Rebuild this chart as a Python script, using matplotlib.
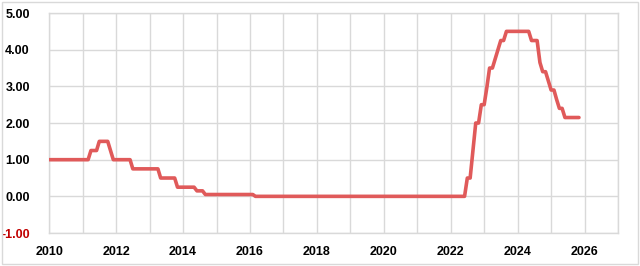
import matplotlib
matplotlib.use('Agg')
from matplotlib import pyplot as plt
import matplotlib.dates as mdates
from matplotlib.patches import Rectangle
import numpy as np
import pandas as pd

# monthly rate, one row per year (Jan..Dec), 2010 to Nov 2025
mro_rate = [
    1.00, 1.00, 1.00, 1.00, 1.00, 1.00, 1.00, 1.00, 1.00, 1.00, 1.00, 1.00,  # 2010
    1.00, 1.00, 1.00, 1.25, 1.25, 1.25, 1.50, 1.50, 1.50, 1.50, 1.25, 1.00,  # 2011
    1.00, 1.00, 1.00, 1.00, 1.00, 1.00, 0.75, 0.75, 0.75, 0.75, 0.75, 0.75,  # 2012
    0.75, 0.75, 0.75, 0.75, 0.50, 0.50, 0.50, 0.50, 0.50, 0.50, 0.25, 0.25,  # 2013
    0.25, 0.25, 0.25, 0.25, 0.25, 0.15, 0.15, 0.15, 0.05, 0.05, 0.05, 0.05,  # 2014
    0.05, 0.05, 0.05, 0.05, 0.05, 0.05, 0.05, 0.05, 0.05, 0.05, 0.05, 0.05,  # 2015
    0.05, 0.05, 0.00, 0.00, 0.00, 0.00, 0.00, 0.00, 0.00, 0.00, 0.00, 0.00,  # 2016
    0.00, 0.00, 0.00, 0.00, 0.00, 0.00, 0.00, 0.00, 0.00, 0.00, 0.00, 0.00,  # 2017
    0.00, 0.00, 0.00, 0.00, 0.00, 0.00, 0.00, 0.00, 0.00, 0.00, 0.00, 0.00,  # 2018
    0.00, 0.00, 0.00, 0.00, 0.00, 0.00, 0.00, 0.00, 0.00, 0.00, 0.00, 0.00,  # 2019
    0.00, 0.00, 0.00, 0.00, 0.00, 0.00, 0.00, 0.00, 0.00, 0.00, 0.00, 0.00,  # 2020
    0.00, 0.00, 0.00, 0.00, 0.00, 0.00, 0.00, 0.00, 0.00, 0.00, 0.00, 0.00,  # 2021
    0.00, 0.00, 0.00, 0.00, 0.00, 0.00, 0.50, 0.50, 1.25, 2.00, 2.00, 2.50,  # 2022
    2.50, 3.00, 3.50, 3.50, 3.75, 4.00, 4.25, 4.25, 4.50, 4.50, 4.50, 4.50,  # 2023
    4.50, 4.50, 4.50, 4.50, 4.50, 4.25, 4.25, 4.25, 3.65, 3.40, 3.40, 3.15,  # 2024
    2.90, 2.90, 2.65, 2.40, 2.40, 2.15, 2.15, 2.15, 2.15, 2.15, 2.15,        # 2025
]
start_month = '2010-01-01'
y_ticks = [-1, 0, 1, 2, 3, 4, 5]

months = pd.date_range(start_month, periods=len(mro_rate), freq='MS')

plt.rcParams['font.family'] = ['Liberation Sans', 'DejaVu Sans']

fig = plt.figure(figsize=(6.4, 2.66), dpi=100)
ax = fig.add_axes([0.077, 0.124, 0.8886, 0.827])

ax.plot(months, mro_rate, color='#E05A5A', linewidth=2.6,
        solid_joinstyle='round', solid_capstyle='round', zorder=3)

ax.set_xlim(pd.Timestamp('2010-01-01'), pd.Timestamp('2027-01-01'))
ax.set_ylim(-1, 5)
ax.set_yticks(y_ticks)
ax.xaxis.set_major_locator(mdates.YearLocator(2))
ax.xaxis.set_minor_locator(mdates.YearLocator(1))
ax.xaxis.set_major_formatter(mdates.DateFormatter('%Y'))

ax.grid(True, which='both', axis='x', color='#D9D9D9', linewidth=1)
ax.grid(True, which='major', axis='y', color='#D9D9D9', linewidth=1)
for s in ax.spines.values():
    s.set_color('#D9D9D9')
    s.set_linewidth(1)
ax.tick_params(which='both', length=0)
ax.tick_params(axis='y', pad=14, labelsize=9)
ax.tick_params(axis='x', pad=9, labelsize=9)

ylabels = []
for v in y_ticks:
    ylabels.append(f'{v:.2f}')
ax.set_yticklabels(ylabels)
for lbl, v in zip(ax.get_yticklabels(), y_ticks):
    lbl.set_fontweight('bold')
    lbl.set_color('#C00000' if v < 0 else 'black')
for lbl in ax.get_xticklabels():
    lbl.set_fontweight('bold')

# chart border
fig.patches.append(Rectangle((0.003, 0.008), 0.994, 0.985, transform=fig.transFigure,
                             fill=False, edgecolor='#D9D9D9', linewidth=1))

fig.savefig('out.png', dpi=100)
